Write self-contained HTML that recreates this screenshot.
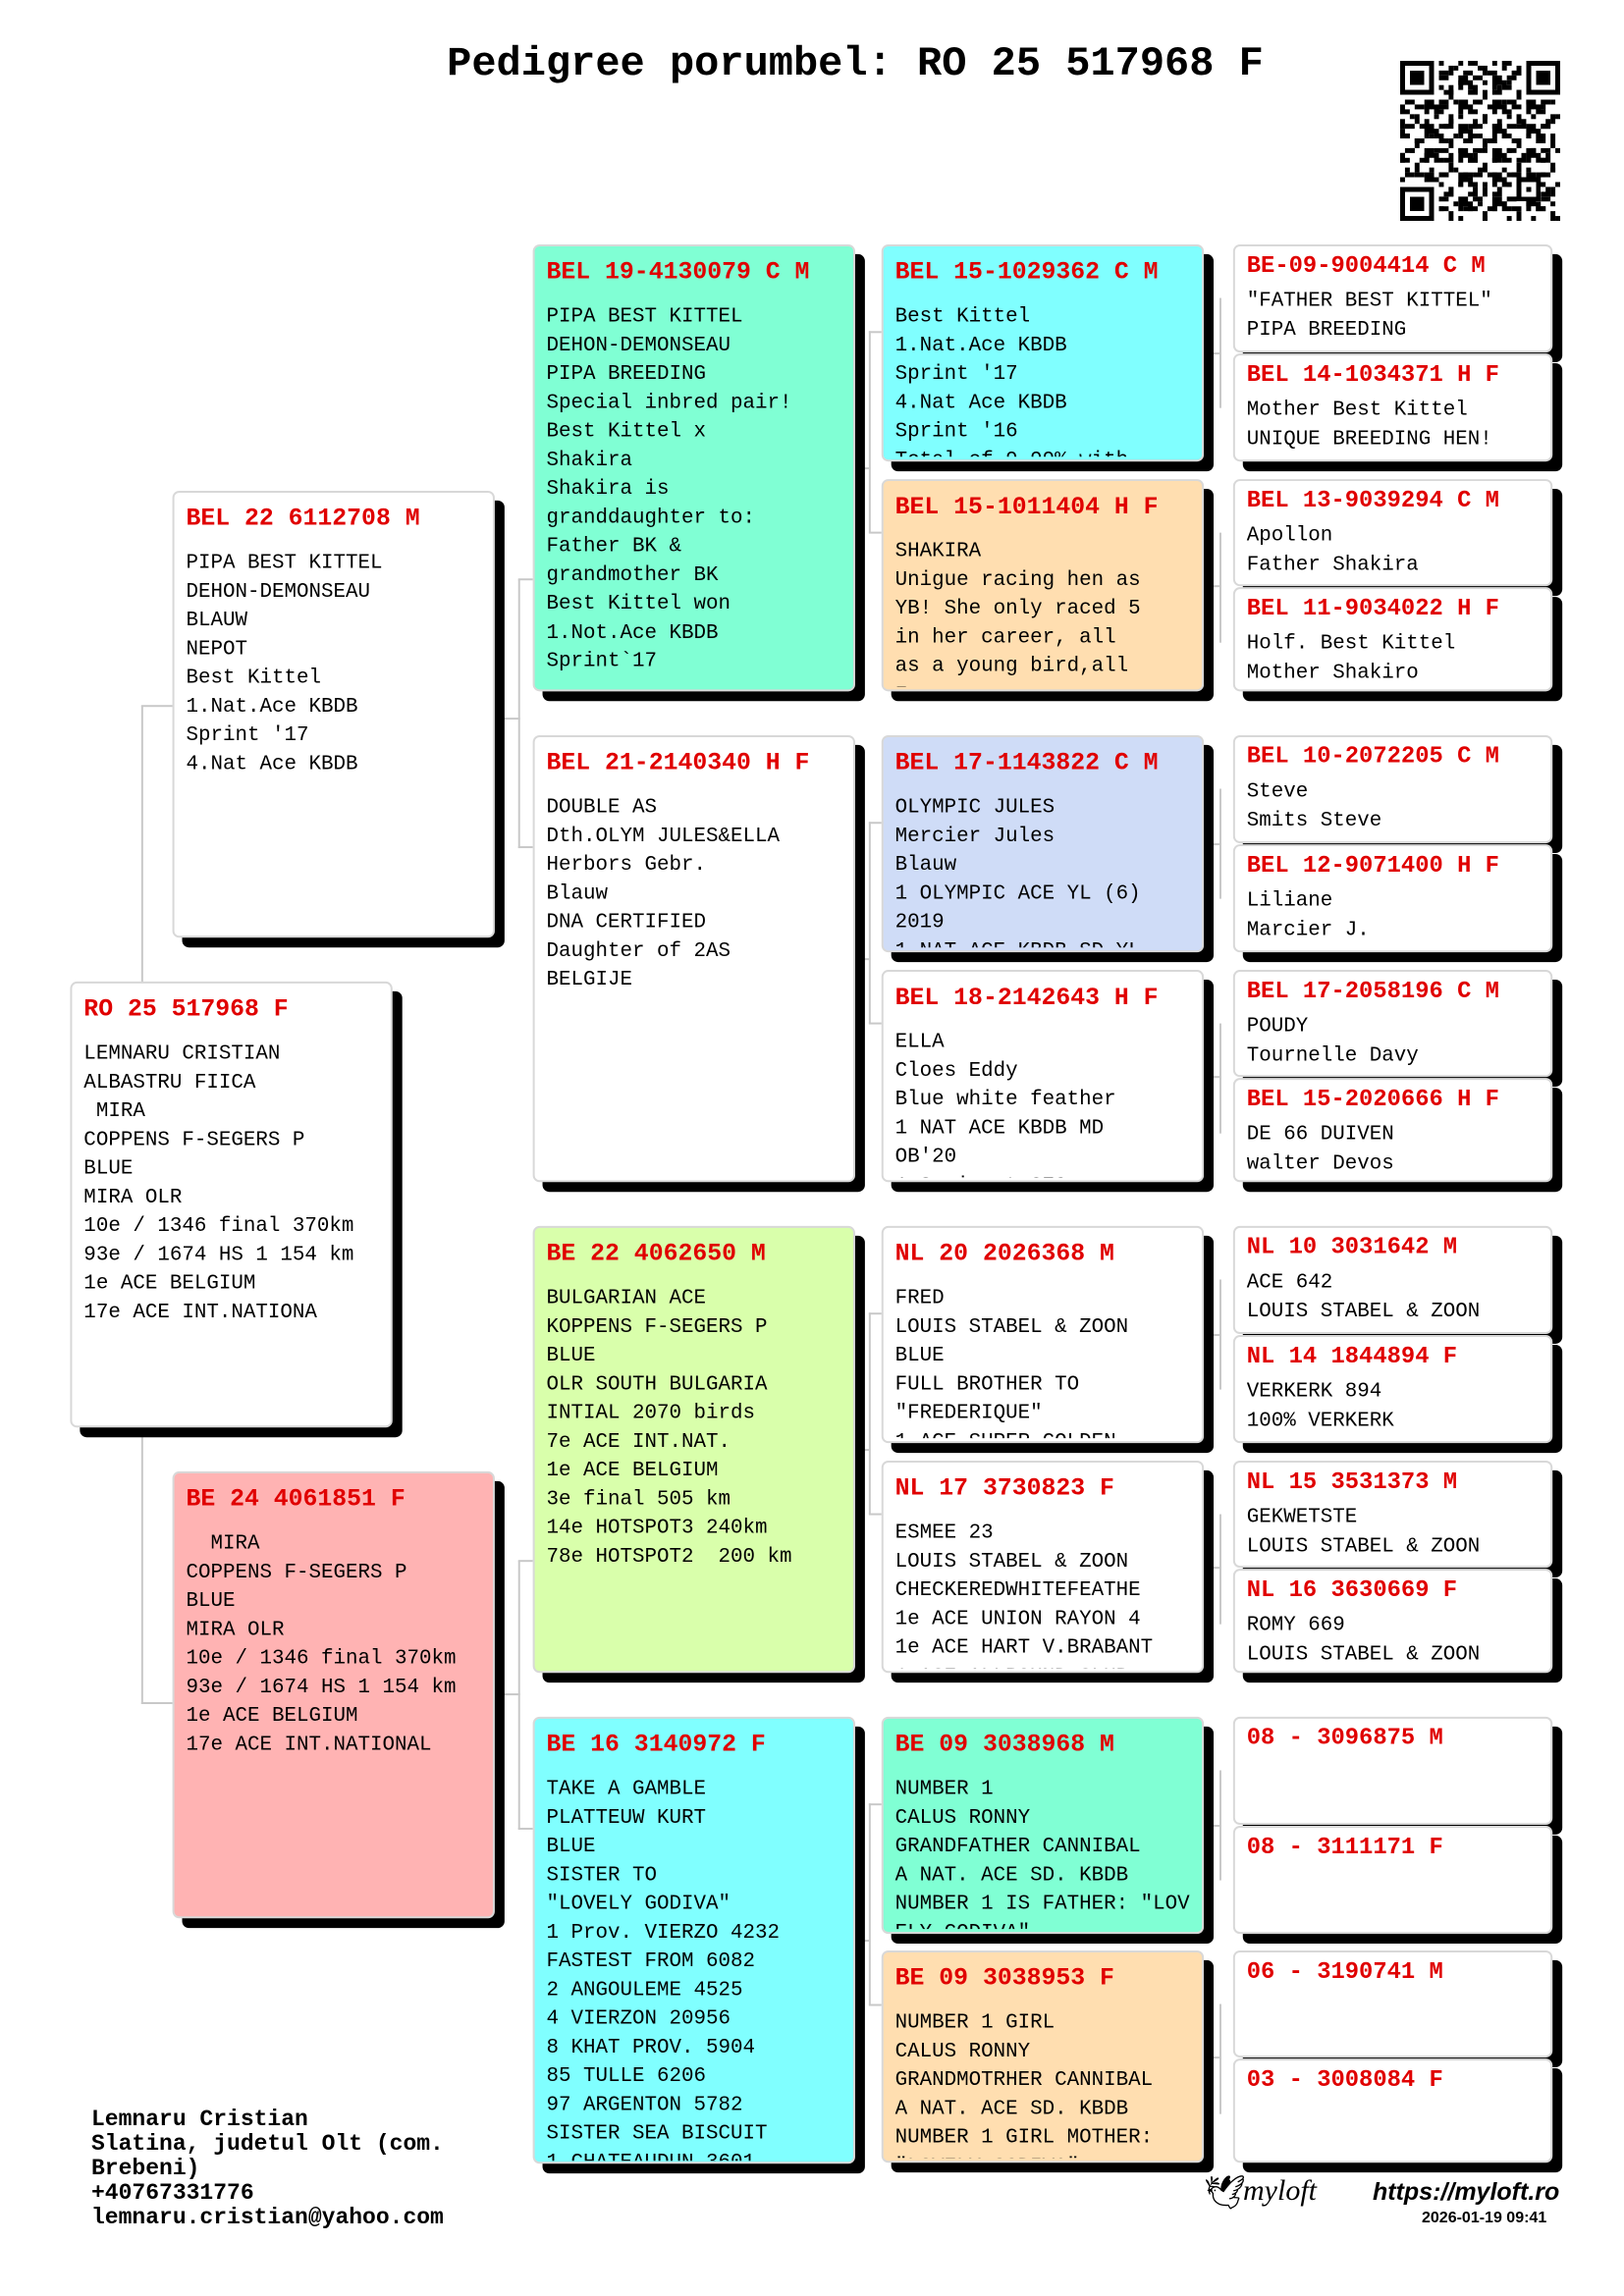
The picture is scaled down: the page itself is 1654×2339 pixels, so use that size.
<!DOCTYPE html>
<html><head><meta charset="utf-8"><style>
*{margin:0;padding:0;box-sizing:border-box}
body{width:1654px;height:2339px;background:#fff;position:relative;overflow:hidden;font-family:"Liberation Mono",monospace;}
.t{position:absolute;left:0;width:1654px;top:40px;text-align:center;font-weight:bold;font-size:42px;line-height:50px;padding-left:88px}
.w{position:absolute;left:0;top:0;width:1654px;height:2339px;transform:scale(0.992);transform-origin:0 0}
.l{position:absolute;background:#c8c8c8}
.b{position:absolute;border:2px solid #d8d8d8;border-radius:7px;box-shadow:10px 10px 0 #000;padding:12px 12px 0 12px;overflow:hidden;background:#fff}
.b h{display:block;color:#e00000;font-weight:bold;font-size:25px;line-height:30px;white-space:pre}
.b .d{margin-top:16px;font-size:21px;line-height:29.5px;white-space:pre;overflow:hidden}
.s{padding-top:6px}
.s h{font-size:24px;line-height:30px}
.s .d{margin-top:6px;line-height:30px}
.f{position:absolute;left:93px;top:2147px;font-weight:bold;font-size:23px;line-height:25px;white-space:pre}
</style></head><body>
<div class="t">Pedigree porumbel: RO 25 517968 F</div>

<svg style="position:absolute;left:1425px;top:62px" width="165" height="163" viewBox="0 0 33 33" shape-rendering="crispEdges">
<defs>
<pattern id="p1" width="7" height="5" patternUnits="userSpaceOnUse"><rect x="0" y="0" width="2" height="1"/><rect x="3" y="1" width="1" height="2"/><rect x="5" y="0" width="1" height="1"/><rect x="1" y="3" width="2" height="1"/><rect x="5" y="3" width="2" height="2"/><rect x="0" y="4" width="1" height="1"/></pattern>
<pattern id="p2" width="5" height="7" patternUnits="userSpaceOnUse"><rect x="1" y="1" width="1" height="1"/><rect x="3" y="2" width="2" height="1"/><rect x="0" y="5" width="1" height="2"/><rect x="2" y="4" width="1" height="1"/><rect x="4" y="6" width="1" height="1"/></pattern>
</defs>
<rect width="33" height="33" fill="#fff"/>
<rect x="0" y="0" width="33" height="33" fill="url(#p1)"/>
<rect x="0" y="0" width="33" height="33" fill="url(#p2)"/>
<g>
<rect x="0" y="0" width="8" height="8" fill="#fff"/><rect x="25" y="0" width="8" height="8" fill="#fff"/><rect x="0" y="25" width="8" height="8" fill="#fff"/>
<rect x="0" y="0" width="7" height="7"/><rect x="1" y="1" width="5" height="5" fill="#fff"/><rect x="2" y="2" width="3" height="3"/>
<rect x="26" y="0" width="7" height="7"/><rect x="27" y="1" width="5" height="5" fill="#fff"/><rect x="28" y="2" width="3" height="3"/>
<rect x="0" y="26" width="7" height="7"/><rect x="1" y="27" width="5" height="5" fill="#fff"/><rect x="2" y="28" width="3" height="3"/>
<rect x="24" y="24" width="5" height="5"/><rect x="25" y="25" width="3" height="3" fill="#fff"/><rect x="26" y="26" width="1" height="1"/>
</g></svg>

<div class="w">
<div class="l" style="left:145px;top:725px;width:2px;height:1025px"></div>
<div class="l" style="left:145px;top:724px;width:32px;height:2px"></div>
<div class="l" style="left:145px;top:1748px;width:32px;height:2px"></div>
<div class="l" style="left:508px;top:737px;width:26px;height:2px"></div>
<div class="l" style="left:532px;top:595px;width:2px;height:276px"></div>
<div class="l" style="left:532px;top:594px;width:15px;height:2px"></div>
<div class="l" style="left:532px;top:869px;width:15px;height:2px"></div>
<div class="l" style="left:508px;top:1739px;width:26px;height:2px"></div>
<div class="l" style="left:532px;top:1603px;width:2px;height:276px"></div>
<div class="l" style="left:532px;top:1602px;width:15px;height:2px"></div>
<div class="l" style="left:532px;top:1877px;width:15px;height:2px"></div>
<div class="l" style="left:878px;top:480px;width:15px;height:2px"></div>
<div class="l" style="left:892px;top:340px;width:2px;height:207px"></div>
<div class="l" style="left:892px;top:340px;width:13px;height:2px"></div><div class="l" style="left:892px;top:546px;width:13px;height:2px"></div>
<div class="l" style="left:878px;top:984px;width:15px;height:2px"></div>
<div class="l" style="left:892px;top:844px;width:2px;height:207px"></div>
<div class="l" style="left:892px;top:844px;width:13px;height:2px"></div><div class="l" style="left:892px;top:1050px;width:13px;height:2px"></div>
<div class="l" style="left:878px;top:1488px;width:15px;height:2px"></div>
<div class="l" style="left:892px;top:1348px;width:2px;height:207px"></div>
<div class="l" style="left:892px;top:1348px;width:13px;height:2px"></div><div class="l" style="left:892px;top:1554px;width:13px;height:2px"></div>
<div class="l" style="left:878px;top:1992px;width:15px;height:2px"></div>
<div class="l" style="left:892px;top:1852px;width:2px;height:207px"></div>
<div class="l" style="left:892px;top:1852px;width:13px;height:2px"></div><div class="l" style="left:892px;top:2058px;width:13px;height:2px"></div>
<div class="l" style="left:1252px;top:306px;width:2px;height:113px"></div>
<div class="l" style="left:1252px;top:547px;width:2px;height:113px"></div>
<div class="l" style="left:1252px;top:810px;width:2px;height:113px"></div>
<div class="l" style="left:1252px;top:1051px;width:2px;height:113px"></div>
<div class="l" style="left:1252px;top:1314px;width:2px;height:113px"></div>
<div class="l" style="left:1252px;top:1555px;width:2px;height:113px"></div>
<div class="l" style="left:1252px;top:1818px;width:2px;height:113px"></div>
<div class="l" style="left:1252px;top:2058px;width:2px;height:113px"></div>
<div class="l" style="left:1236px;top:362px;width:18px;height:2px"></div>
<div class="l" style="left:1236px;top:601px;width:18px;height:2px"></div>
<div class="l" style="left:1236px;top:866px;width:18px;height:2px"></div>
<div class="l" style="left:1236px;top:1105px;width:18px;height:2px"></div>
<div class="l" style="left:1236px;top:1370px;width:18px;height:2px"></div>
<div class="l" style="left:1236px;top:1609px;width:18px;height:2px"></div>
<div class="l" style="left:1236px;top:1874px;width:18px;height:2px"></div>
<div class="l" style="left:1236px;top:2112px;width:18px;height:2px"></div>

<div class="b" style="left:72px;top:1008px;width:331px;height:458px"><h>RO 25 517968 F</h><div class="d">LEMNARU CRISTIAN
ALBASTRU FIICA
 MIRA
COPPENS F-SEGERS P
BLUE
MIRA OLR
10e / 1346 final 370km
93e / 1674 HS 1 154 km
1e ACE BELGIUM
17e ACE INT.NATIONA</div></div>

<div class="b" style="left:177px;top:504px;width:331px;height:459px"><h>BEL 22 6112708 M</h><div class="d">PIPA BEST KITTEL
DEHON-DEMONSEAU
BLAUW
NEPOT
Best Kittel
1.Nat.Ace KBDB
Sprint '17
4.Nat Ace KBDB</div></div>
<div class="b" style="left:177px;top:1511px;width:331px;height:459px;background:#ffb3b3"><h>BE 24 4061851 F</h><div class="d">  MIRA
COPPENS F-SEGERS P
BLUE
MIRA OLR
10e / 1346 final 370km
93e / 1674 HS 1 154 km
1e ACE BELGIUM
17e ACE INT.NATIONAL</div></div>

<div class="b" style="left:547px;top:251px;width:331px;height:459px;background:#80ffd4"><h>BEL 19-4130079 C M</h><div class="d">PIPA BEST KITTEL
DEHON-DEMONSEAU
PIPA BREEDING
Special inbred pair!
Best Kittel x
Shakira
Shakira is
granddaughter to:
Father BK &amp;
grandmother BK
Best Kittel won
1.Not.Ace KBDB
Sprint`17</div></div>
<div class="b" style="left:547px;top:755px;width:331px;height:459px"><h>BEL 21-2140340 H F</h><div class="d">DOUBLE AS
Dth.OLYM JULES&amp;ELLA
Herbors Gebr.
Blauw
DNA CERTIFIED
Daughter of 2AS
BELGIJE</div></div>
<div class="b" style="left:547px;top:1259px;width:331px;height:459px;background:#d9ffab"><h>BE 22 4062650 M</h><div class="d">BULGARIAN ACE
KOPPENS F-SEGERS P
BLUE
OLR SOUTH BULGARIA
INTIAL 2070 birds
7e ACE INT.NAT.
1e ACE BELGIUM
3e final 505 km
14e HOTSPOT3 240km
78e HOTSPOT2  200 km</div></div>
<div class="b" style="left:547px;top:1763px;width:331px;height:459px;background:#80ffff"><h>BE 16 3140972 F</h><div class="d" style="height:396px">TAKE A GAMBLE
PLATTEUW KURT
BLUE
SISTER TO
"LOVELY GODIVA"
1 Prov. VIERZO 4232
FASTEST FROM 6082
2 ANGOULEME 4525
4 VIERZON 20956
8 KHAT PROV. 5904
85 TULLE 6206
97 ARGENTON 5782
SISTER SEA BISCUIT
1 CHATEAUDUN 3601</div></div>

<div class="b" style="left:905px;top:251px;width:331px;height:223px;background:#80ffff"><h>BEL 15-1029362 C M</h><div class="d" style="height:158px">Best Kittel
1.Nat.Ace KBDB
Sprint '17
4.Nat Ace KBDB
Sprint '16
Total of 9.99% with</div></div>
<div class="b" style="left:905px;top:492px;width:331px;height:218px;background:#ffdeb0"><h>BEL 15-1011404 H F</h><div class="d" style="height:153px">SHAKIRA
Unigue racing hen as
YB! She only raced 5
in her career, all
as a young bird,all
F...</div></div>
<div class="b" style="left:905px;top:755px;width:331px;height:223px;background:#cfdcf7"><h>BEL 17-1143822 C M</h><div class="d" style="height:158px">OLYMPIC JULES
Mercier Jules
Blauw
1 OLYMPIC ACE YL (6)
2019
1 NAT ACE KBDB SD YL</div></div>
<div class="b" style="left:905px;top:996px;width:331px;height:218px"><h>BEL 18-2142643 H F</h><div class="d" style="height:153px">ELLA
Cloes Eddy
Blue white feather
1 NAT ACE KBDB MD
OB'20
1 Semi-nat 270</div></div>
<div class="b" style="left:905px;top:1259px;width:331px;height:223px"><h>NL 20 2026368 M</h><div class="d" style="height:158px">FRED
LOUIS STABEL &amp; ZOON
BLUE
FULL BROTHER TO
"FREDERIQUE"
1 ACE SUPER GOLDEN</div></div>
<div class="b" style="left:905px;top:1500px;width:331px;height:218px"><h>NL 17 3730823 F</h><div class="d" style="height:153px">ESMEE 23
LOUIS STABEL &amp; ZOON
CHECKEREDWHITEFEATHE
1e ACE UNION RAYON 4
1e ACE HART V.BRABANT
1 ACE ALLROUND CLUB</div></div>
<div class="b" style="left:905px;top:1763px;width:331px;height:223px;background:#80ffd4"><h>BE 09 3038968 M</h><div class="d" style="height:158px">NUMBER 1
CALUS RONNY
GRANDFATHER CANNIBAL
A NAT. ACE SD. KBDB
NUMBER 1 IS FATHER: "LOV
ELY GODIVA"</div></div>
<div class="b" style="left:905px;top:2003px;width:331px;height:218px;background:#ffdeb0"><h>BE 09 3038953 F</h><div class="d" style="height:153px">NUMBER 1 GIRL
CALUS RONNY
GRANDMOTRHER CANNIBAL
A NAT. ACE SD. KBDB
NUMBER 1 GIRL MOTHER:
"LOVELY GODIVA"</div></div>

<div class="b s" style="left:1266px;top:251px;width:328px;height:111px"><h>BE-09-9004414 C M</h><div class="d">"FATHER BEST KITTEL"
PIPA BREEDING</div></div>
<div class="b s" style="left:1266px;top:363px;width:328px;height:111px"><h>BEL 14-1034371 H F</h><div class="d">Mother Best Kittel
UNIQUE BREEDING HEN!</div></div>
<div class="b s" style="left:1266px;top:492px;width:328px;height:110px"><h>BEL 13-9039294 C M</h><div class="d">Apollon
Father Shakira</div></div>
<div class="b s" style="left:1266px;top:603px;width:328px;height:107px"><h>BEL 11-9034022 H F</h><div class="d">Holf. Best Kittel
Mother Shakiro</div></div>
<div class="b s" style="left:1266px;top:755px;width:328px;height:111px"><h>BEL 10-2072205 C M</h><div class="d">Steve
Smits Steve</div></div>
<div class="b s" style="left:1266px;top:867px;width:328px;height:111px"><h>BEL 12-9071400 H F</h><div class="d">Liliane
Marcier J.</div></div>
<div class="b s" style="left:1266px;top:996px;width:328px;height:110px"><h>BEL 17-2058196 C M</h><div class="d">POUDY
Tournelle Davy</div></div>
<div class="b s" style="left:1266px;top:1107px;width:328px;height:107px"><h>BEL 15-2020666 H F</h><div class="d">DE 66 DUIVEN
walter Devos</div></div>
<div class="b s" style="left:1266px;top:1259px;width:328px;height:111px"><h>NL 10 3031642 M</h><div class="d">ACE 642
LOUIS STABEL &amp; ZOON</div></div>
<div class="b s" style="left:1266px;top:1371px;width:328px;height:111px"><h>NL 14 1844894 F</h><div class="d">VERKERK 894
100% VERKERK</div></div>
<div class="b s" style="left:1266px;top:1500px;width:328px;height:110px"><h>NL 15 3531373 M</h><div class="d">GEKWETSTE
LOUIS STABEL &amp; ZOON</div></div>
<div class="b s" style="left:1266px;top:1611px;width:328px;height:107px"><h>NL 16 3630669 F</h><div class="d">ROMY 669
LOUIS STABEL &amp; ZOON</div></div>
<div class="b s" style="left:1266px;top:1763px;width:328px;height:111px"><h>08 - 3096875 M</h></div>
<div class="b s" style="left:1266px;top:1875px;width:328px;height:111px"><h>08 - 3111171 F</h></div>
<div class="b s" style="left:1266px;top:2003px;width:328px;height:110px"><h>06 - 3190741 M</h></div>
<div class="b s" style="left:1266px;top:2114px;width:328px;height:107px"><h>03 - 3008084 F</h></div>
</div>

<div class="f">Lemnaru Cristian
Slatina, judetul Olt (com.
Brebeni)
+40767331776
lemnaru.cristian@yahoo.com</div>

<div style="position:absolute;left:1226px;top:2214px;font-family:'DejaVu Sans',sans-serif;font-size:34px;line-height:40px">&#x1F54A;</div>
<div style="position:absolute;left:1266px;top:2214px;font-family:'Liberation Serif',serif;font-style:italic;font-size:30px;line-height:36px">myloft</div>
<div style="position:absolute;left:1398px;top:2218px;font-family:'Liberation Sans',sans-serif;font-weight:bold;font-style:italic;font-size:25px;line-height:30px">https://myloft.ro</div>
<div style="position:absolute;left:1448px;top:2250px;font-family:'Liberation Sans',sans-serif;font-weight:bold;font-size:16px;line-height:19px">2026-01-19 09:41</div>
</body></html>
